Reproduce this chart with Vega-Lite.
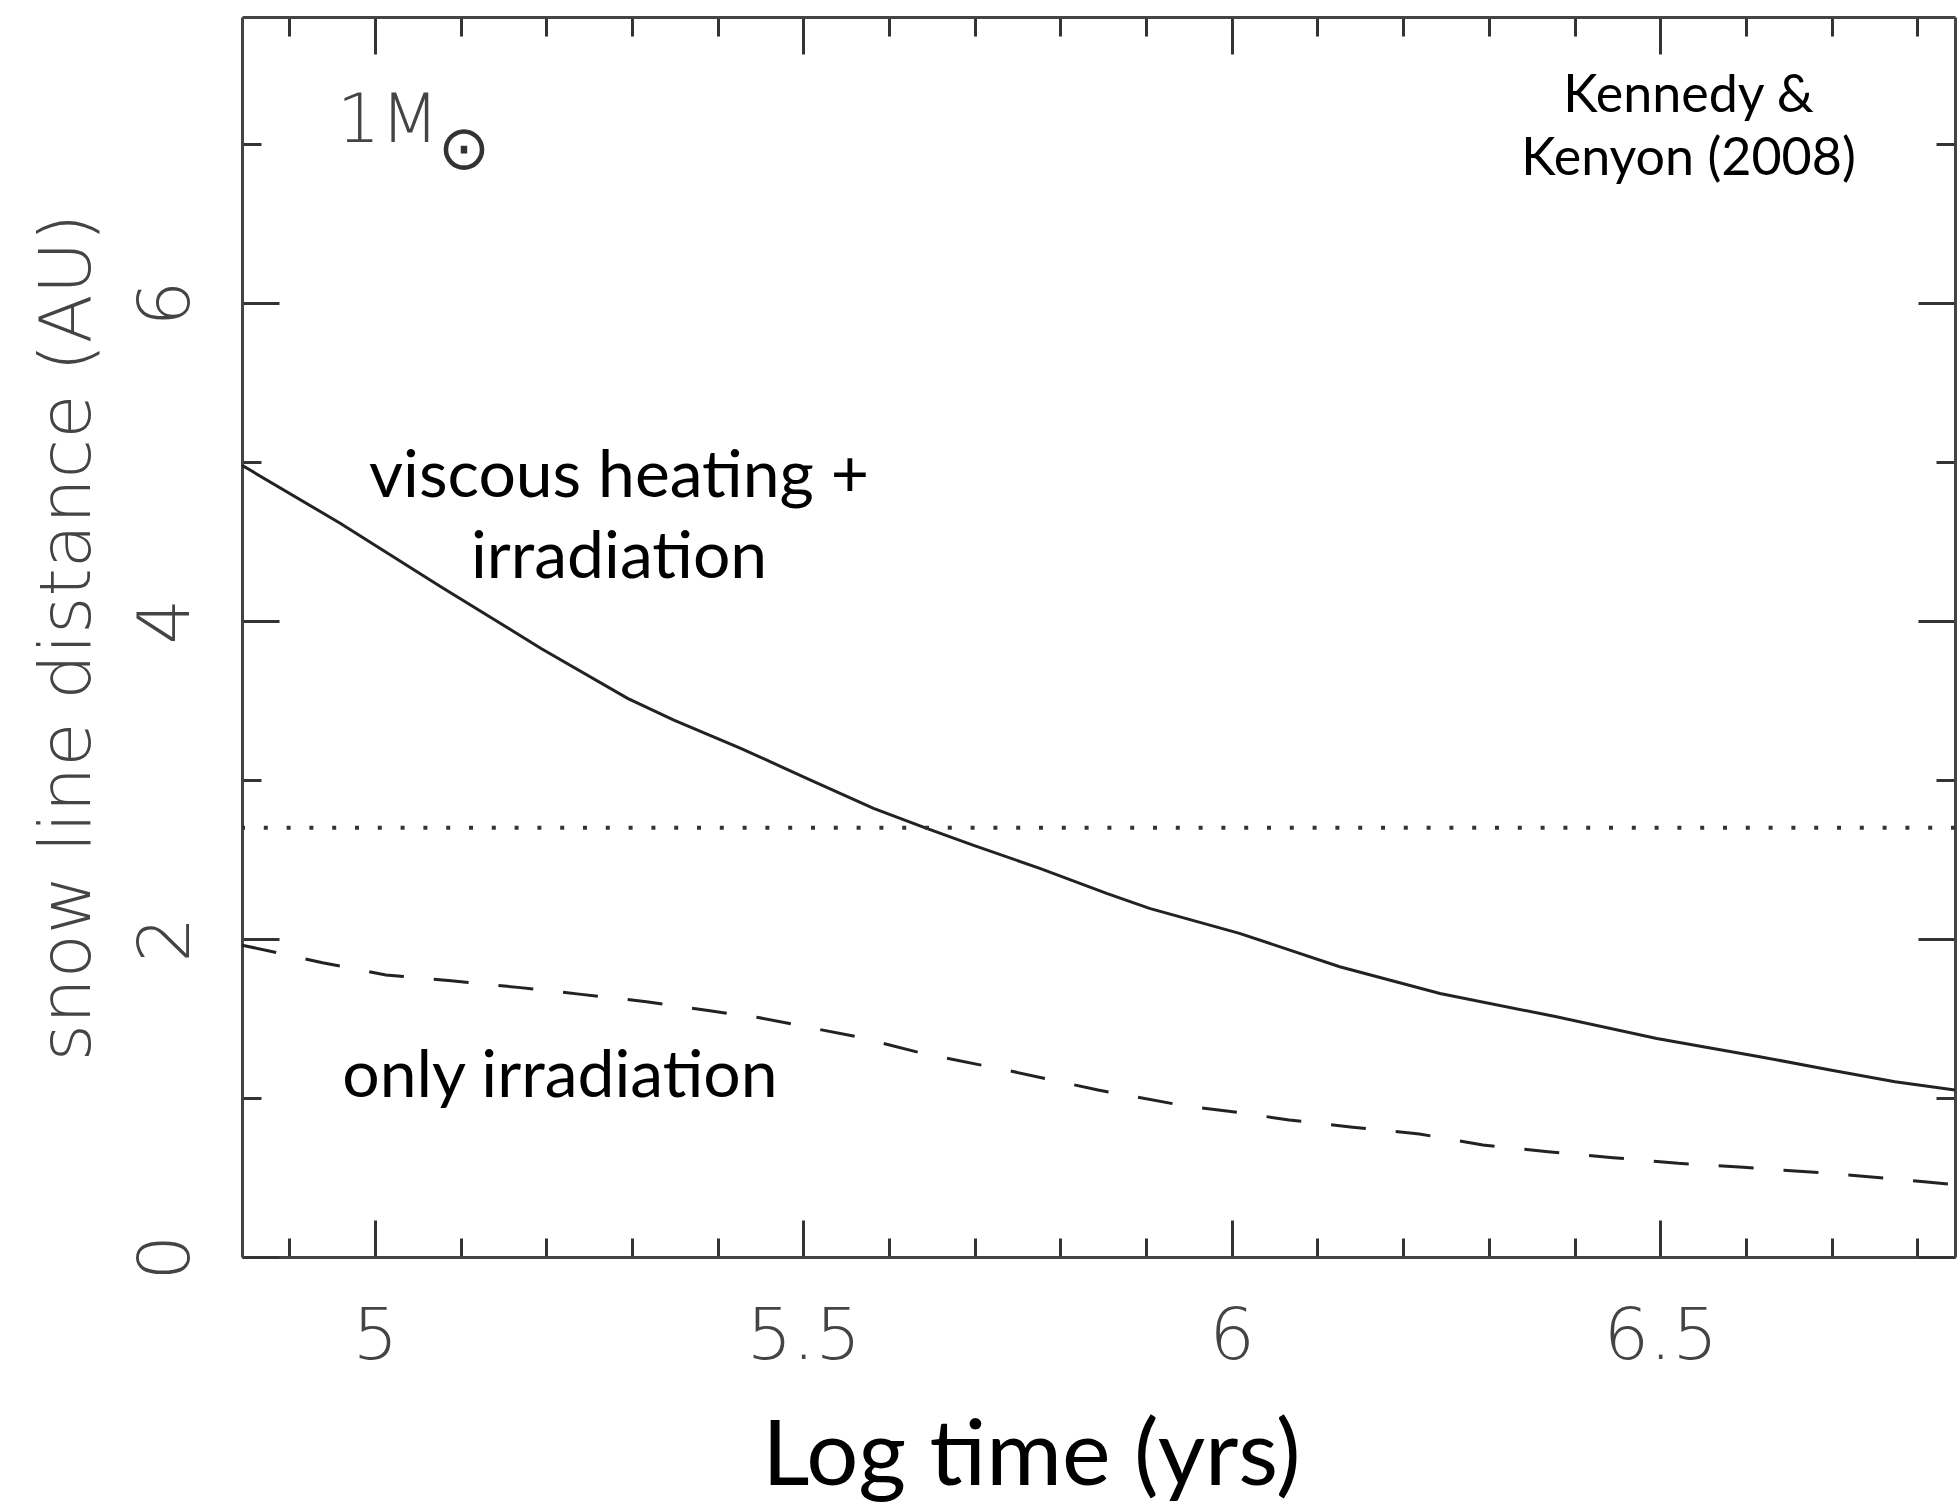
{
  "$schema": "https://vega.github.io/schema/vega-lite/v6.json",
  "width": 1713,
  "height": 1240,
  "autosize": {"type": "none"},
  "padding": {"left": 242, "top": 17, "right": 2, "bottom": 254},
  "background": "white",
  "config": {
    "view": {"stroke": null},
    "axis": {
      "grid": false,
      "domainColor": "#444",
      "domainWidth": 3,
      "tickColor": "#333",
      "tickWidth": 3,
      "labelFont": "DejaVu Sans",
      "labelFontWeight": 200,
      "labelColor": "#444",
      "labelFontSize": 72,
      "labelOverlap": false,
      "labelFlush": false,
      "labelBound": false
    }
  },
  "datasets": {
    "viscous": [
      {"t": 4.845, "d": 4.98},
      {"t": 4.96, "d": 4.614},
      {"t": 5.077, "d": 4.216},
      {"t": 5.194, "d": 3.828},
      {"t": 5.295, "d": 3.514},
      {"t": 5.349, "d": 3.377},
      {"t": 5.427, "d": 3.2},
      {"t": 5.504, "d": 3.011},
      {"t": 5.582, "d": 2.822},
      {"t": 5.644, "d": 2.696},
      {"t": 5.698, "d": 2.591},
      {"t": 5.776, "d": 2.445},
      {"t": 5.854, "d": 2.287},
      {"t": 5.904, "d": 2.193},
      {"t": 6.009, "d": 2.036},
      {"t": 6.126, "d": 1.826},
      {"t": 6.243, "d": 1.658},
      {"t": 6.379, "d": 1.511},
      {"t": 6.496, "d": 1.375},
      {"t": 6.616, "d": 1.26},
      {"t": 6.7, "d": 1.175},
      {"t": 6.774, "d": 1.103},
      {"t": 6.844, "d": 1.05}
    ],
    "irradiation": [
      {"t": 4.845, "d": 1.962},
      {"t": 4.939, "d": 1.851},
      {"t": 5.013, "d": 1.774},
      {"t": 5.089, "d": 1.738},
      {"t": 5.167, "d": 1.696},
      {"t": 5.241, "d": 1.652},
      {"t": 5.317, "d": 1.606},
      {"t": 5.393, "d": 1.547},
      {"t": 5.449, "d": 1.505},
      {"t": 5.562, "d": 1.386},
      {"t": 5.64, "d": 1.28},
      {"t": 5.742, "d": 1.17},
      {"t": 5.844, "d": 1.05},
      {"t": 5.946, "d": 0.95},
      {"t": 6.009, "d": 0.908},
      {"t": 6.067, "d": 0.862},
      {"t": 6.141, "d": 0.816},
      {"t": 6.219, "d": 0.774},
      {"t": 6.293, "d": 0.704},
      {"t": 6.369, "d": 0.662},
      {"t": 6.445, "d": 0.625},
      {"t": 6.521, "d": 0.589},
      {"t": 6.597, "d": 0.564},
      {"t": 6.7, "d": 0.525},
      {"t": 6.808, "d": 0.474},
      {"t": 6.844, "d": 0.455}
    ],
    "snowline": [{"d": 2.7}],
    "curveLabels": [
      {"t": 5.285, "d": 4.782, "label": "viscous heating +"},
      {"t": 5.285, "d": 4.27, "label": "irradiation"},
      {"t": 5.216, "d": 1.008, "label": "only irradiation"}
    ],
    "citation": [
      {"t": 6.533, "d": 7.2, "label": "Kennedy &"},
      {"t": 6.533, "d": 6.805, "label": "Kenyon (2008)"}
    ],
    "mass": [{"t": 4.956, "d": 7.016, "label": "1M"}],
    "sun": [{"t": 5.104, "d": 6.962, "label": "⊙"}]
  },
  "layer": [
    {
      "data": {"name": "viscous"},
      "mark": {"type": "line", "color": "#222", "strokeWidth": 3, "clip": true},
      "encoding": {
        "x": {
          "field": "t", "type": "quantitative",
          "scale": {"domain": [4.845, 6.844], "nice": false, "zero": false},
          "axis": {
            "orient": "bottom",
            "values": [4.9, 5, 5.1, 5.2, 5.3, 5.4, 5.5, 5.6, 5.7, 5.8, 5.9, 6, 6.1, 6.2, 6.3, 6.4, 6.5, 6.6, 6.7, 6.8],
            "format": "~g",
            "tickSize": {"condition": {"test": "datum.value == 5 || datum.value == 5.5 || datum.value == 6 || datum.value == 6.5", "value": -37}, "value": -19},
            "labelExpr": "datum.value == 5 || datum.value == 5.5 || datum.value == 6 || datum.value == 6.5 ? datum.label : ''",
            "labelBaseline": "alphabetic",
            "labelAlign": "center",
            "labelPadding": 138,
            "title": "Log time (yrs)",
            "titleFont": "Lato",
            "titleFontSize": 92,
            "titleFontWeight": "normal",
            "titleColor": "#000",
            "titleBaseline": "alphabetic",
            "titleAlign": "center",
            "titleX": 789,
            "titlePadding": 94
          }
        },
        "y": {
          "field": "d", "type": "quantitative",
          "scale": {"domain": [0, 7.8], "nice": false, "zero": false},
          "axis": {
            "orient": "left",
            "values": [0, 1, 2, 3, 4, 5, 6, 7],
            "format": "d",
            "tickSize": {"condition": {"test": "datum.value % 2 == 0", "value": -37}, "value": -19},
            "labelExpr": "datum.value % 2 == 0 ? datum.label : ''",
            "labelAngle": 270,
            "labelAlign": "center",
            "labelBaseline": "alphabetic",
            "labelPadding": 91,
            "title": "snow line distance (AU)",
            "titleFont": "DejaVu Sans",
            "titleFontWeight": 200,
            "titleFontSize": 72,
            "titleColor": "#444",
            "titleAngle": 270,
            "titleBaseline": "alphabetic",
            "titlePadding": 23
          }
        }
      }
    },
    {
      "data": {"name": "irradiation"},
      "mark": {"type": "line", "color": "#222", "strokeWidth": 3, "strokeDash": [35, 30], "clip": true},
      "encoding": {
        "x": {
          "field": "t", "type": "quantitative",
          "scale": {"domain": [4.845, 6.844], "nice": false, "zero": false},
          "axis": {
            "orient": "top",
            "values": [4.9, 5, 5.1, 5.2, 5.3, 5.4, 5.5, 5.6, 5.7, 5.8, 5.9, 6, 6.1, 6.2, 6.3, 6.4, 6.5, 6.6, 6.7, 6.8],
            "tickSize": {"condition": {"test": "datum.value == 5 || datum.value == 5.5 || datum.value == 6 || datum.value == 6.5", "value": -37}, "value": -19},
            "labels": false,
            "title": null
          }
        },
        "y": {
          "field": "d", "type": "quantitative",
          "scale": {"domain": [0, 7.8], "nice": false, "zero": false},
          "axis": {
            "orient": "right",
            "values": [0, 1, 2, 3, 4, 5, 6, 7],
            "tickSize": {"condition": {"test": "datum.value % 2 == 0", "value": -37}, "value": -19},
            "labels": false,
            "title": null
          }
        }
      }
    },
    {
      "data": {"name": "snowline"},
      "mark": {"type": "rule", "color": "#333", "strokeWidth": 4, "strokeDash": [4, 18.8]},
      "encoding": {
        "y": {"field": "d", "type": "quantitative", "scale": {"domain": [0, 7.8], "nice": false, "zero": false}, "axis": null}
      }
    },
    {
      "data": {"name": "curveLabels"},
      "mark": {"type": "text", "font": "Lato", "fontSize": 66, "color": "#000", "align": "center", "baseline": "alphabetic"},
      "encoding": {
        "x": {"field": "t", "type": "quantitative", "scale": {"domain": [4.845, 6.844], "nice": false, "zero": false}, "axis": null},
        "y": {"field": "d", "type": "quantitative", "scale": {"domain": [0, 7.8], "nice": false, "zero": false}, "axis": null},
        "text": {"field": "label"}
      }
    },
    {
      "data": {"name": "citation"},
      "mark": {"type": "text", "font": "Lato", "fontSize": 52, "color": "#000", "align": "center", "baseline": "alphabetic"},
      "encoding": {
        "x": {"field": "t", "type": "quantitative", "scale": {"domain": [4.845, 6.844], "nice": false, "zero": false}, "axis": null},
        "y": {"field": "d", "type": "quantitative", "scale": {"domain": [0, 7.8], "nice": false, "zero": false}, "axis": null},
        "text": {"field": "label"}
      }
    },
    {
      "data": {"name": "mass"},
      "mark": {"type": "text", "font": "DejaVu Sans", "fontWeight": 200, "fontSize": 68, "color": "#444", "align": "left", "baseline": "alphabetic"},
      "encoding": {
        "x": {"field": "t", "type": "quantitative", "scale": {"domain": [4.845, 6.844], "nice": false, "zero": false}, "axis": null},
        "y": {"field": "d", "type": "quantitative", "scale": {"domain": [0, 7.8], "nice": false, "zero": false}, "axis": null},
        "text": {"field": "label"}
      }
    },
    {
      "data": {"name": "sun"},
      "mark": {"type": "text", "font": "DejaVu Sans", "fontWeight": 200, "fontSize": 62, "color": "#333", "align": "center", "baseline": "middle"},
      "encoding": {
        "x": {"field": "t", "type": "quantitative", "scale": {"domain": [4.845, 6.844], "nice": false, "zero": false}, "axis": null},
        "y": {"field": "d", "type": "quantitative", "scale": {"domain": [0, 7.8], "nice": false, "zero": false}, "axis": null},
        "text": {"field": "label"}
      }
    }
  ],
  "resolve": {"axis": {"x": "independent", "y": "independent"}}
}
